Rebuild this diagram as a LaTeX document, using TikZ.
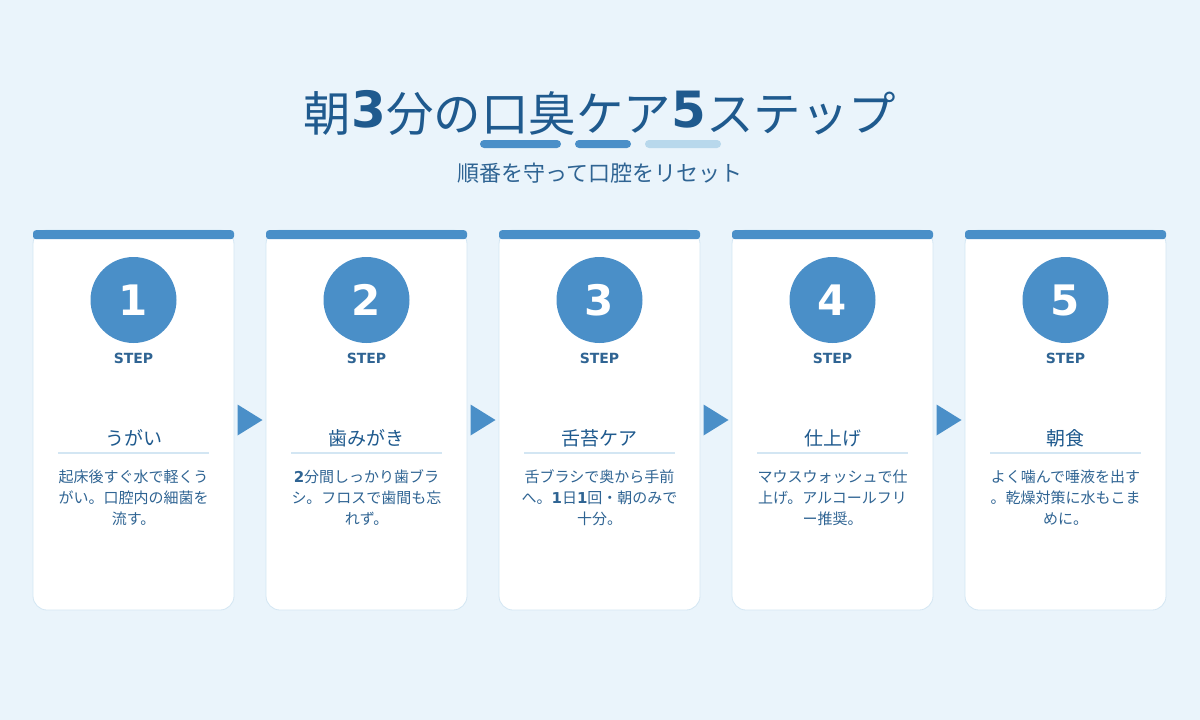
\documentclass[tikz,border=0pt]{standalone}
\usepackage{xcolor}
\usepackage{fontspec}
\setmainfont{Noto Sans CJK JP}
\newfontfamily\dejavu{DejaVu Sans}
\usepackage{tikz}
\usetikzlibrary{positioning, calc}
\definecolor{pagebg}{HTML}{EAF4FB}
\definecolor{titleblue}{HTML}{1F5A8E}
\definecolor{accent}{HTML}{4A8FC8}
\definecolor{pale}{HTML}{B8D8EC}
\definecolor{cardline}{HTML}{D3E6F3}
\definecolor{textblue}{HTML}{2F6493}
\tikzset{
    card/.style={
        rectangle, draw=cardline, fill=white, line width=0.8pt, outer sep=0pt,
        rounded corners=14pt, minimum width=201pt, minimum height=380pt
    },
    topbar/.style={rectangle, fill=accent, rounded corners=3pt, minimum width=201pt, minimum height=9pt, inner sep=0pt},
    badge/.style={circle, fill=accent, minimum size=86pt, inner sep=0pt, text=white, font=\dejavu\bfseries\fontsize{42}{42}\selectfont},
    steplabel/.style={text=textblue, inner sep=0pt, font=\dejavu\bfseries\fontsize{14}{14}\selectfont},
    heading/.style={text=titleblue, inner sep=0pt, font=\fontsize{19}{22}\selectfont},
    desc/.style={text=textblue, align=center, inner sep=0pt, font=\fontsize{15}{21}\selectfont},
    rule/.style={draw=cardline, line width=2pt},
    deco/.style={rectangle, rounded corners=4pt, minimum height=8pt, inner sep=0pt},
    nextarrow/.style={fill=accent}
}
% bold digits
\newcommand{\bd}[1]{{\dejavu\bfseries #1}}
\newcommand{\bigbd}[1]{\raisebox{4pt}{\dejavu\bfseries\fontsize{50}{56}\selectfont #1}}

\begin{document}
\begin{tikzpicture}[x=1pt, y=-1pt]
        \fill[pagebg] (0,0) rectangle (1200,720);
        \useasboundingbox (0,0) rectangle (1200,720);

        % title
        \node[text=titleblue, font=\fontsize{47.5}{56}\selectfont] (title) at (600,113) {朝\bigbd{3}分の口臭ケア\bigbd{5}ステップ};
        \node[deco, fill=accent, minimum width=81pt] (deco1) at (520.5,144) {};
        \node[deco, fill=accent, minimum width=56pt] (deco2) at (603,144) {};
        \node[deco, fill=pale, minimum width=76pt] (deco3) at (683,144) {};
        \node[text=textblue, font=\fontsize{22}{26}\selectfont] (subtitle) at (600,173) {順番を守って口腔をリセット};

        % cards
        \node[card] (card1) at (133.5,420) {};
        \node[card, right=32pt of card1] (card2) {};
        \node[card, right=32pt of card2] (card3) {};
        \node[card, right=32pt of card3] (card4) {};
        \node[card, right=32pt of card4] (card5) {};

        \node[topbar, anchor=north] (bar1) at (card1.north) {};
        \node[badge] (num1) at ($(card1)+(0,-120)$) {1};
        \node[steplabel] (step1) at ($(num1)+(0,58)$) {STEP};
        \node[heading] (head1) at ($(card1)+(0,18)$) {うがい};
        \draw[rule] ($(card1)+(-75.5,33)$) -- ($(card1)+(75.5,33)$);
        \node[desc] (desc1) at ($(card1)+(0,78)$) {起床後すぐ水で軽くう\\がい。口腔内の細菌を\\流す。};

        \node[topbar, anchor=north] (bar2) at (card2.north) {};
        \node[badge] (num2) at ($(card2)+(0,-120)$) {2};
        \node[steplabel] (step2) at ($(num2)+(0,58)$) {STEP};
        \node[heading] (head2) at ($(card2)+(0,18)$) {歯みがき};
        \draw[rule] ($(card2)+(-75.5,33)$) -- ($(card2)+(75.5,33)$);
        \node[desc] (desc2) at ($(card2)+(0,78)$) {\bd{2}分間しっかり歯ブラ\\シ。フロスで歯間も忘\\れず。};

        \node[topbar, anchor=north] (bar3) at (card3.north) {};
        \node[badge] (num3) at ($(card3)+(0,-120)$) {3};
        \node[steplabel] (step3) at ($(num3)+(0,58)$) {STEP};
        \node[heading] (head3) at ($(card3)+(0,18)$) {舌苔ケア};
        \draw[rule] ($(card3)+(-75.5,33)$) -- ($(card3)+(75.5,33)$);
        \node[desc] (desc3) at ($(card3)+(0,78)$) {舌ブラシで奥から手前\\へ。\bd{1}日\bd{1}回・朝のみで\\十分。};

        \node[topbar, anchor=north] (bar4) at (card4.north) {};
        \node[badge] (num4) at ($(card4)+(0,-120)$) {4};
        \node[steplabel] (step4) at ($(num4)+(0,58)$) {STEP};
        \node[heading] (head4) at ($(card4)+(0,18)$) {仕上げ};
        \draw[rule] ($(card4)+(-75.5,33)$) -- ($(card4)+(75.5,33)$);
        \node[desc] (desc4) at ($(card4)+(0,78)$) {マウスウォッシュで仕\\上げ。アルコールフリ\\ー推奨。};

        \node[topbar, anchor=north] (bar5) at (card5.north) {};
        \node[badge] (num5) at ($(card5)+(0,-120)$) {5};
        \node[steplabel] (step5) at ($(num5)+(0,58)$) {STEP};
        \node[heading] (head5) at ($(card5)+(0,18)$) {朝食};
        \draw[rule] ($(card5)+(-75.5,33)$) -- ($(card5)+(75.5,33)$);
        \node[desc] (desc5) at ($(card5)+(0,78)$) {よく噛んで唾液を出す\\。乾燥対策に水もこま\\めに。};

        % arrows between the cards
        \coordinate (gap1) at ($(card1.east)!0.5!(card2.west)$);
        \coordinate (gap2) at ($(card2.east)!0.5!(card3.west)$);
        \coordinate (gap3) at ($(card3.east)!0.5!(card4.west)$);
        \coordinate (gap4) at ($(card4.east)!0.5!(card5.west)$);
        \fill[nextarrow] ($(gap1)+(-12.5,-15.5)$) -- ($(gap1)+(12.5,0)$) -- ($(gap1)+(-12.5,15.5)$) -- cycle;
        \fill[nextarrow] ($(gap2)+(-12.5,-15.5)$) -- ($(gap2)+(12.5,0)$) -- ($(gap2)+(-12.5,15.5)$) -- cycle;
        \fill[nextarrow] ($(gap3)+(-12.5,-15.5)$) -- ($(gap3)+(12.5,0)$) -- ($(gap3)+(-12.5,15.5)$) -- cycle;
        \fill[nextarrow] ($(gap4)+(-12.5,-15.5)$) -- ($(gap4)+(12.5,0)$) -- ($(gap4)+(-12.5,15.5)$) -- cycle;
    \end{tikzpicture}
\end{document}
